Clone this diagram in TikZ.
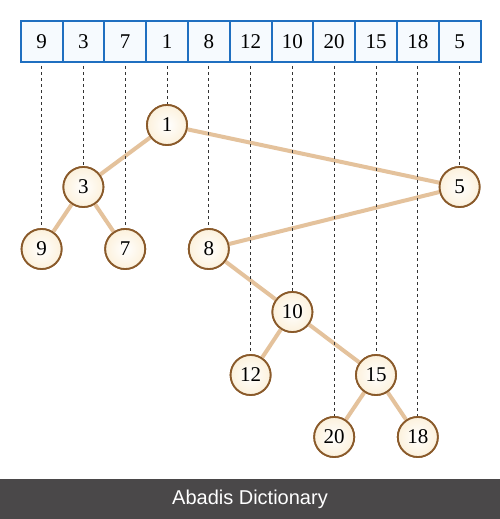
\documentclass[tikz,border=0pt]{standalone}
\usepackage{fontspec}
\setmainfont{Liberation Serif}
\newfontfamily\barfont{Liberation Sans}
\usetikzlibrary{positioning}

\definecolor{cellblue}{HTML}{1F6FC0}
\definecolor{cellfill}{HTML}{F6FAFE}
\definecolor{ringbrown}{HTML}{8A5A2A}
\definecolor{creamfill}{HTML}{FCF1DC}
\definecolor{edgetan}{HTML}{E4C29C}
\definecolor{bargray}{HTML}{4A4849}

\begin{document}
\begin{tikzpicture}[x=1pt,y=-1pt,node distance=41.8pt,
                    font=\fontsize{21}{24}\selectfont]
  \tikzstyle{cell}=[draw=cellblue,fill=cellfill,line width=2pt,
                    minimum width=41.8pt,minimum height=41pt,inner sep=0pt]
  \tikzstyle{vertex}=[circle,draw=ringbrown,line width=1.8pt,inner color=white,
                      outer color=creamfill,minimum size=40pt,inner sep=0pt]
  \tikzstyle{treeedge}=[draw=edgetan,line width=4pt]
  \tikzstyle{guide}=[draw=black!80,dashed,line width=0.8pt,
                     dash pattern=on 3pt off 3pt]

  \useasboundingbox (0,0) rectangle (500,519);
  \fill[white] (0,0) rectangle (500,519);

  % the array
  \node[cell] (c1) at (41.6,41.5) {9};
  \node[cell] (c2)  [right of=c1]  {3};
  \node[cell] (c3)  [right of=c2]  {7};
  \node[cell] (c4)  [right of=c3]  {1};
  \node[cell] (c5)  [right of=c4]  {8};
  \node[cell] (c6)  [right of=c5]  {12};
  \node[cell] (c7)  [right of=c6]  {10};
  \node[cell] (c8)  [right of=c7]  {20};
  \node[cell] (c9)  [right of=c8]  {15};
  \node[cell] (c10) [right of=c9]  {18};
  \node[cell] (c11) [right of=c10] {5};

  % the tree
  \node[vertex] (t1)  at (c4  |- 0,125) {1};
  \node[vertex] (t3)  at (c2  |- 0,187) {3};
  \node[vertex] (t5)  at (c11 |- 0,187) {5};
  \node[vertex] (t9)  at (c1  |- 0,249) {9};
  \node[vertex] (t7)  at (c3  |- 0,249) {7};
  \node[vertex] (t8)  at (c5  |- 0,249) {8};
  \node[vertex] (t10) at (c7  |- 0,312) {10};
  \node[vertex] (t12) at (c6  |- 0,375) {12};
  \node[vertex] (t15) at (c9  |- 0,375) {15};
  \node[vertex] (t20) at (c8  |- 0,437) {20};
  \node[vertex] (t18) at (c10 |- 0,437) {18};

  \path[treeedge] (t1) -- (t3)   (t1) -- (t5)
                  (t3) -- (t9)   (t3) -- (t7)
                  (t5) -- (t8)   (t8) -- (t10)
                  (t10) -- (t12) (t10) -- (t15)
                  (t15) -- (t20) (t15) -- (t18);

  % guides from array to tree
  \foreach \c/\t in {c1/t9,c2/t3,c3/t7,c4/t1,c5/t8,c6/t12,c7/t10,
                     c8/t20,c9/t15,c10/t18,c11/t5}
    \path[guide] ([yshift=-3pt]\c.south) -- (\t.north);

  % redraw the circles over the edges
  \foreach \t/\v in {t1/1,t3/3,t5/5,t9/9,t7/7,t8/8,t10/10,t12/12,t15/15,t20/20,t18/18}
    \node[vertex] at (\t) {\v};

  % footer
  \fill[bargray] (0,479) rectangle (500,519);
  \node[text=white,font=\barfont\fontsize{20}{24}\selectfont] (footer)
    at (250,499) {Abadis Dictionary};
\end{tikzpicture}
\end{document}
